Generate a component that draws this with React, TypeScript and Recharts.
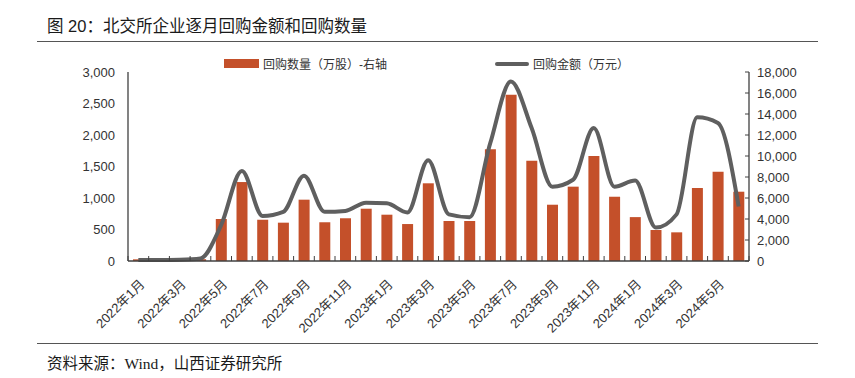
import React from 'react';
import { ComposedChart, Bar, Line, XAxis, YAxis } from 'recharts';

// 月份（横轴标签）
const months = [
    '2022年1月', '2022年2月', '2022年3月', '2022年4月', '2022年5月', '2022年6月',
    '2022年7月', '2022年8月', '2022年9月', '2022年10月', '2022年11月', '2022年12月',
    '2023年1月', '2023年2月', '2023年3月', '2023年4月', '2023年5月', '2023年6月',
    '2023年7月', '2023年8月', '2023年9月', '2023年10月', '2023年11月', '2023年12月',
    '2024年1月', '2024年2月', '2024年3月', '2024年4月', '2024年5月', '2024年6月',
];

// 回购数量（万股）- 右轴
const quantity = [
    160, 0, 0, 170, 4000, 7520, 3930, 3650, 5840, 3690, 4070, 4980,
    4410, 3520, 7400, 3810, 3810, 10640, 15840, 9550, 5360, 7080, 10000, 6120,
    4180, 2950, 2730, 6950, 8500, 6600,
];

// 回购金额（万元）- 左轴
const amount = [
    15, 15, 20, 40, 570, 1430, 715, 780, 1355, 780, 795, 925,
    915, 770, 1600, 740, 695, 1870, 2850, 2110, 1180, 1290, 2110, 1180,
    1277, 530, 740, 2280, 2190, 865,
];

const leftTicks = [0, 500, 1000, 1500, 2000, 2500, 3000];
const rightTicks = [0, 2000, 4000, 6000, 8000, 10000, 12000, 14000, 16000, 18000];

const data = months.map((m, i) => ({ month: m, quantity: quantity[i], amount: amount[i] }));

const BAR_COLOR = '#C4502A';
const LINE_COLOR = '#5f5f5f';
const AXIS_COLOR = '#404040';
const TEXT_COLOR = '#333333';
const fmt = (v: number) => v.toLocaleString('en-US');

// 横轴标签：每两个月一个，刻度线画在类别之间（朝上）
const MonthTick = ({ x, y, payload, index }: any) => {
    const half = payload.offset || 0;
    const tx = x + 7;
    const ty = y + 24;
    return (
        <g>
            {half > 0 && <line x1={x + half} x2={x + half} y1={y} y2={y - 5} stroke={AXIS_COLOR} />}
            {half > 0 && index === 0 && <line x1={x - half} x2={x - half} y1={y} y2={y - 5} stroke={AXIS_COLOR} />}
            {index % 2 === 0 && (
                <text x={tx} y={ty} transform={`rotate(-45 ${tx} ${ty})`} textAnchor="end"
                    fontSize={13} fill={TEXT_COLOR} fontFamily='"Liberation Sans", "Noto Sans CJK SC", sans-serif'>
                    {payload.value}
                </text>
            )}
        </g>
    );
};

export default function App() {
    return (
        <div style={{ position: 'absolute', left: 0, top: 0, width: 855, height: 378, background: '#fff',
            fontFamily: '"Liberation Sans", "Noto Sans CJK SC", sans-serif', color: TEXT_COLOR }}>
            <div style={{ position: 'absolute', left: 47, top: 13, fontSize: 16.5, color: '#1a1a1a', whiteSpace: 'nowrap' }}>
                图 20：北交所企业逐月回购金额和回购数量
            </div>
            <div style={{ position: 'absolute', left: 37, top: 41, width: 781, height: 0, borderTop: '1.5px solid #555' }} />

            {/* legend */}
            <div style={{ position: 'absolute', left: 224, top: 59, width: 35, height: 9, background: BAR_COLOR }} />
            <div style={{ position: 'absolute', left: 263, top: 55, fontSize: 12, whiteSpace: 'nowrap' }}>回购数量（万股）-右轴</div>
            <div style={{ position: 'absolute', left: 495, top: 62, width: 34, height: 4, background: LINE_COLOR, borderRadius: 2 }} />
            <div style={{ position: 'absolute', left: 533, top: 55, fontSize: 12, whiteSpace: 'nowrap' }}>回购金额（万元）</div>

            <div style={{ position: 'absolute', left: 0, top: 0 }}>
                <ComposedChart width={855} height={378} data={data}
                    margin={{ top: 72, right: 0, left: 0, bottom: 57 }}>
                    <XAxis xAxisId="cat" dataKey="month" height={60} interval={0} tickSize={0} tickMargin={0}
                        axisLine={{ stroke: AXIS_COLOR, strokeWidth: 1.3 }} tickLine={false} tick={<MonthTick />} />
                    <YAxis yAxisId="left" orientation="left" width={128} domain={[0, 3000]} ticks={leftTicks}
                        interval={0} tickFormatter={fmt} tickLine={false} tickMargin={7}
                        axisLine={{ stroke: AXIS_COLOR, strokeWidth: 1.3 }}
                        tick={{ fill: TEXT_COLOR, fontSize: 13, fontFamily: '"Liberation Sans", sans-serif' }} />
                    <YAxis yAxisId="right" orientation="right" width={106} domain={[0, 18000]} ticks={rightTicks}
                        interval={0} tickFormatter={fmt} tickSize={-4} tickMargin={12}
                        axisLine={{ stroke: AXIS_COLOR, strokeWidth: 1.3 }} tickLine={{ stroke: AXIS_COLOR }}
                        tick={{ fill: TEXT_COLOR, fontSize: 13, fontFamily: '"Liberation Sans", sans-serif' }} />
                    <Bar xAxisId="cat" yAxisId="right" dataKey="quantity" fill={BAR_COLOR} barSize={11}
                        isAnimationActive={false} />
                    <Line xAxisId="cat" yAxisId="left" dataKey="amount" type="monotone" stroke={LINE_COLOR}
                        strokeWidth={4} dot={false} isAnimationActive={false} />
                </ComposedChart>
            </div>

            <div style={{ position: 'absolute', left: 37, top: 343, width: 781, height: 0, borderTop: '1.5px solid #555' }} />
            <div style={{ position: 'absolute', left: 47, top: 351, fontSize: 15.5, color: '#1a1a1a', whiteSpace: 'nowrap',
                fontFamily: '"Liberation Serif", "Noto Sans CJK SC", serif' }}>
                资料来源：Wind，山西证券研究所
            </div>
        </div>
    );
}
